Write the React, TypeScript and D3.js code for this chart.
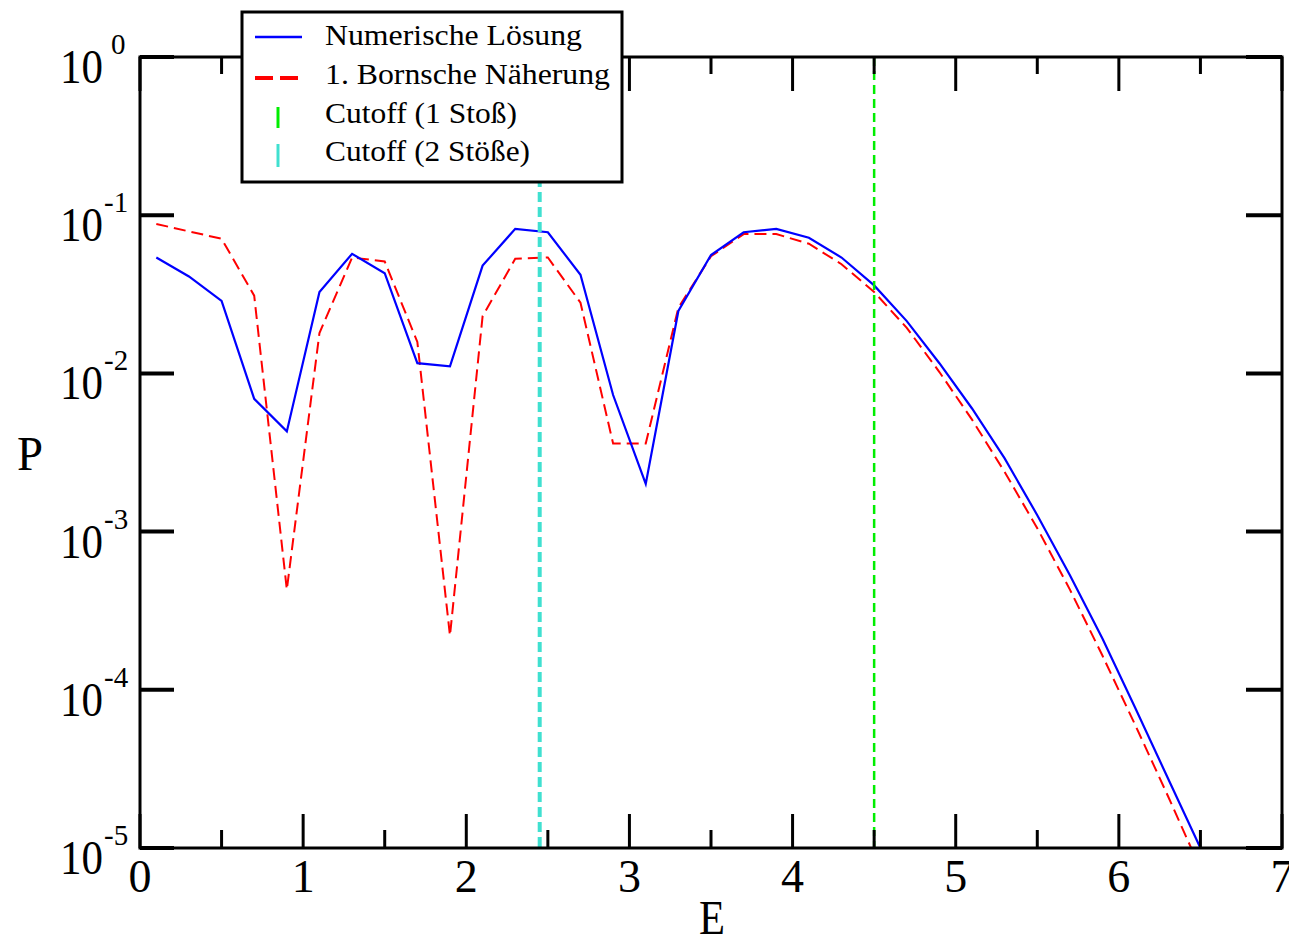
import React from "react";
import * as d3 from "d3";

const energies = [0.1, 0.3, 0.5, 0.7, 0.9, 1.1, 1.3, 1.5, 1.7, 1.9, 2.1, 2.3, 2.5, 2.7, 2.9, 3.1, 3.3, 3.5, 3.7, 3.9, 4.1, 4.3, 4.5, 4.7, 4.9, 5.1, 5.3, 5.5, 5.7, 5.9, 6.1, 6.3, 6.5];
const numerical = [0.054, 0.041, 0.0287, 0.0069, 0.0043, 0.0327, 0.057, 0.043, 0.0116, 0.0111, 0.048, 0.082, 0.078, 0.042, 0.0073, 0.002, 0.0248, 0.056, 0.078, 0.082, 0.072, 0.054, 0.036, 0.0214, 0.0116, 0.006, 0.0029, 0.00127, 0.00053, 0.00021, 7.7e-5, 2.77e-5, 1.0e-5];
const born = [0.088, 0.079, 0.071, 0.031, 0.00043, 0.018, 0.054, 0.051, 0.0158, 0.00022, 0.023, 0.053, 0.054, 0.028, 0.0036, 0.0036, 0.026, 0.055, 0.076, 0.076, 0.066, 0.049, 0.0327, 0.0194, 0.0102, 0.0051, 0.00238, 0.00105, 0.00043, 0.000164, 6.0e-5, 2.14e-5, 7.4e-6];
const cutoff1 = 4.5;
const cutoff2 = 2.45;
const xMajorTicks = [0, 1, 2, 3, 4, 5, 6, 7];
const xMinorTicks = [0.5, 1.5, 2.5, 3.5, 4.5, 5.5, 6.5];
const yTickExponents = [0, -1, -2, -3, -4, -5];
const legendLabels = ["Numerische Lösung", "1. Bornsche Näherung", "Cutoff (1 Stoß)", "Cutoff (2 Stöße)"];
const legendWidths = [257, 285, 192, 205];

const L = 140, R = 1282, T = 57, B = 848;
const FONT = "'Liberation Serif', 'Times New Roman', serif";

export default function App() {
  const x = d3.scaleLinear().domain([0, 7]).range([L, R]);
  const y = d3.scaleLog().domain([1e-5, 1]).range([B, T]);
  const line = d3.line<number>().x((_, i) => x(energies[i])).y((d) => y(d));

  return (
    <svg width={1289} height={939} style={{ display: "block", position: "absolute", left: 0, top: 0, background: "#fff" }}>
      <defs>
        <clipPath id="plotclip">
          <rect x={L} y={T} width={R - L} height={B - T} />
        </clipPath>
      </defs>
      <rect x={0} y={0} width={1289} height={939} fill="#fff" />
      <g clipPath="url(#plotclip)">
        <path d={line(born) || ""} fill="none" stroke="#ff0000" strokeWidth={2} strokeDasharray="12,6" />
        <path d={line(numerical) || ""} fill="none" stroke="#0000ff" strokeWidth={2.2} />
        <line x1={x(cutoff2)} x2={x(cutoff2)} y1={T} y2={B} stroke="#40e0d0" strokeWidth={4} strokeDasharray="10,5" />
        <line x1={x(cutoff1)} x2={x(cutoff1)} y1={T} y2={B} stroke="#00ee00" strokeWidth={2.5} strokeDasharray="9,5" />
      </g>
      {/* frame */}
      <rect x={L} y={T} width={R - L} height={B - T} fill="none" stroke="#000" strokeWidth={3} />
      {/* x ticks */}
      {xMajorTicks.map((t) => (
        <g key={"xM" + t}>
          <line x1={x(t)} x2={x(t)} y1={B} y2={B - 34} stroke="#000" strokeWidth={3} />
          <line x1={x(t)} x2={x(t)} y1={T} y2={T + 34} stroke="#000" strokeWidth={3} />
          <text x={x(t)} y={892} textAnchor="middle" fontFamily={FONT} fontSize={46} textLength={23} lengthAdjust="spacingAndGlyphs">{t}</text>
        </g>
      ))}
      {xMinorTicks.map((t) => (
        <g key={"xm" + t}>
          <line x1={x(t)} x2={x(t)} y1={B} y2={B - 18} stroke="#000" strokeWidth={3} />
          <line x1={x(t)} x2={x(t)} y1={T} y2={T + 17} stroke="#000" strokeWidth={3} />
        </g>
      ))}
      {/* y ticks */}
      {yTickExponents.map((e) => {
        const yy = y(Math.pow(10, e));
        return (
          <g key={"y" + e}>
            <line x1={L} x2={L + 34} y1={yy} y2={yy} stroke="#000" strokeWidth={4} />
            <line x1={R} x2={R - 36} y1={yy} y2={yy} stroke="#000" strokeWidth={4} />
            <text x={60} y={yy + 26} textAnchor="start" fontFamily={FONT} fontSize={48} textLength={43} lengthAdjust="spacingAndGlyphs">10</text>
            <text x={e === 0 ? 111 : 104} y={yy - 3} textAnchor="start" fontFamily={FONT} fontSize={29}>{e}</text>
          </g>
        );
      })}
      <text x={30} y={470} textAnchor="middle" fontFamily={FONT} fontSize={48} textLength={26} lengthAdjust="spacingAndGlyphs">P</text>
      <text x={712} y={934} textAnchor="middle" fontFamily={FONT} fontSize={48} textLength={26} lengthAdjust="spacingAndGlyphs">E</text>
      {/* legend */}
      <g>
        <rect x={242} y={12} width={380} height={170} fill="#fff" stroke="#000" strokeWidth={3} />
        <line x1={255} x2={302} y1={37} y2={37} stroke="#0000ff" strokeWidth={2.5} />
        <line x1={255} x2={302} y1={78} y2={78} stroke="#ff0000" strokeWidth={4} strokeDasharray="18,7" />
        <line x1={278} x2={278} y1={107} y2={128} stroke="#00ee00" strokeWidth={3} />
        <line x1={278} x2={278} y1={144} y2={167} stroke="#40e0d0" strokeWidth={3} />
        {legendLabels.map((lab, i) => (
          <text key={lab} x={325} y={45 + i * 38.8} fontFamily={FONT} fontSize={30} textLength={legendWidths[i]} lengthAdjust="spacingAndGlyphs">{lab}</text>
        ))}
      </g>
    </svg>
  );
}
